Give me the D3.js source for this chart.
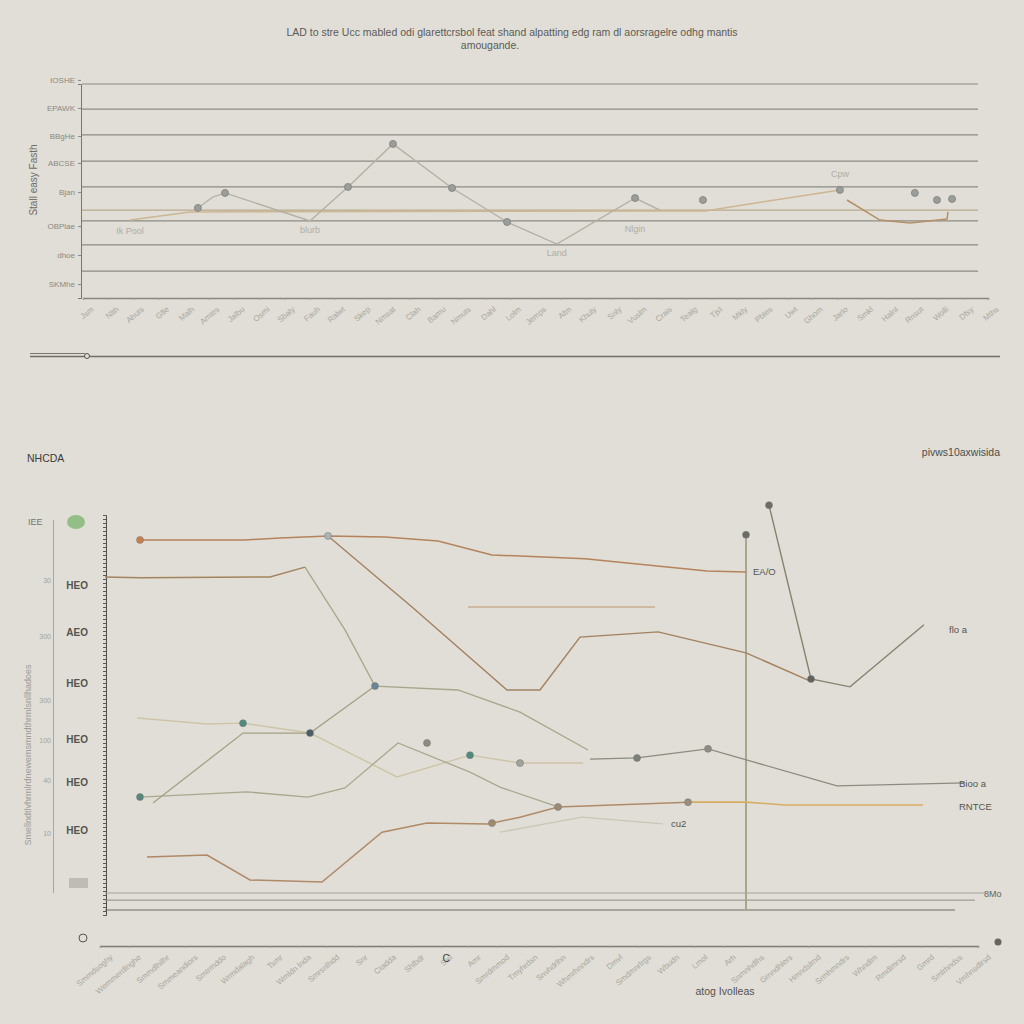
<!DOCTYPE html>
<html>
<head>
<meta charset="utf-8">
<script src="https://cdn.jsdelivr.net/npm/d3@7"></script>
<style>
  body { margin: 0; background: #e0ded6; }
  svg { display: block; font-family: "Liberation Sans", "DejaVu Sans", sans-serif; }
</style>
</head>
<body>
<script>
// ---- top chart data ----
var topTitle1 = "LAD to  stre Ucc  mabled odi glarettcrsbol  feat shand  alpatting  edg ram dl  aorsragelre odhg  mantis";
var topTitle2 = "amougande.";
var topYLabel = "Stall easy Fasth";
var topGrid = [100, 88.3, 76.2, 64.0, 51.9, 41.1, 36.0, 24.8, 12.6];
var topTickVals = [101.9, 88.8, 75.7, 63.1, 49.5, 33.6, 20.1, 6.5];
var topTickText = ["IOSHE", "EPAWK", "BBgHe", "ABCSE", "Bjan", "OBPlae", "dhoe", "SKMhe"];
var topCats = ["Jsm", "Nlth", "Ahuts", "Gfle", "Malh", "Amtes", "Jalbu", "Osmi", "Sbaly", "Fauh", "Ralwt", "Skep",
  "Nmsat", "Clah", "Bamu", "Nmuts", "Dahl", "Lolm", "Jemps", "Afm", "Khuly", "Snly", "Vuslm", "Crais",
  "Tealg", "Tjst", "Mkly", "Pbles", "Uwt", "Ghom", "Jarlo", "Smkl", "Halnt", "Rnsut", "Wolli", "Dfsy", "Mths"];
var topGray = [[4.57, 42.1], [5.17, 47.2], [5.65, 49.1], [9.03, 36.0], [10.54, 51.9], [12.33, 72.0],
  [14.68, 51.4], [16.87, 35.5], [18.85, 25.2], [21.96, 46.7], [22.95, 41.1]];
var topTan = [[1.87, 36.4], [4.26, 40.2], [22.95, 40.7], [24.74, 40.7], [30.11, 50.5]];
var topOrange = [[30.39, 45.8], [31.70, 36.4], [32.9, 35.0], [34.37, 36.9], [34.41, 40.2]];
var topDots = [[4.57, 42.1], [5.65, 49.1], [10.54, 51.9], [12.33, 72.0], [14.68, 51.4], [16.87, 35.5],
  [21.96, 46.7], [24.66, 45.8], [30.11, 50.5], [33.09, 49.1], [33.97, 45.8], [34.57, 46.3]];
var topNotes = [[1.87, 30.0, "Ik Pool"], [9.03, 30.5, "blurb"], [18.85, 19.5, "Land"], [21.96, 31.0, "Nlgin"], [30.11, 56.5, "Cpw"]];

// ---- bottom chart data ----
var botTitle = "NHCDA";
var botCorner = "pivws10axwisida";
var botAxisTitle = "atog Ivolleas";
var botTickVals = [82.3, 70.4, 57.5, 43.3, 32.4, 20.3];
var botTickText = ["HEO", "AEO", "HEO", "HEO", "HEO", "HEO"];
var botSmallVals = [83.5, 69.4, 53.2, 43.0, 33.0, 19.5];
var botSmallText = ["30", "300", "300", "100", "40", "10"];
var botCats = ["Smmdsoghy", "Wemmerdlnghe", "Smmdlhilhr", "Smmeandiors", "Smtrmddo", "Wrmdalagh", "Tsmr",
  "Wmldn lnda", "Smrsnlhdd", "Snr", "Ctadda", "Shlbdr", "Sisl", "Amr", "Smrdmmod", "Tmyhrdsn",
  "Snvhdrlhn", "Whmrhnndrs", "Dmvl", "Smdmnrlrgs", "Wbudn", "Lmol", "Arh", "Snmnhdlhs", "Grnndhlers",
  "Hmndslrnd", "Srmhmndrs", "Whndlm", "Rmdlmrsd", "Gmrd", "Smlrhndss", "Vmhnsdlrsd"];
var s1 = [[1.75, 93.7], [7.0, 93.7], [8.75, 94.2], [11.15, 94.7], [14.0, 94.4], [16.65, 93.4], [19.35, 89.9], [24.0, 88.9], [30.1, 85.8], [32.05, 85.6]];
var s2a = [[0, 84.3], [1.75, 84.1], [8.25, 84.3], [10.0, 86.8]];
var s2 = [[10.0, 86.8], [12.0, 70.9], [13.5, 56.7], [17.65, 55.7], [20.75, 50.1], [24.15, 40.5]];
var s2b = [[24.25, 38.2], [26.6, 38.5], [30.15, 40.8], [36.6, 31.4], [43.0, 32.2]];
var s3 = [[11.15, 94.7], [15.35, 76.7], [20.1, 55.7], [21.75, 55.7], [23.75, 69.1], [27.65, 70.4], [32.05, 65.1], [35.15, 58.2]];
var s4 = [[33.2, 102.5], [35.3, 58.5], [37.25, 56.5], [40.95, 72.2]];
var s5 = [[1.6, 48.6], [5.1, 47.1], [6.9, 47.3], [10.25, 44.8], [14.6, 33.7], [18.25, 39.2], [20.75, 37.2], [23.9, 37.2]];
var s6 = [[2.4, 27.1], [6.9, 44.8], [10.25, 44.8], [13.5, 56.7]];
var s7 = [[1.75, 28.6], [7.1, 29.9], [10.15, 28.6], [12.0, 30.9], [14.65, 42.3], [18.25, 34.9], [19.75, 31.1], [22.65, 26.1]];
var s8 = [[2.1, 13.4], [5.1, 13.9], [7.25, 7.6], [10.85, 7.1], [13.85, 19.7], [16.1, 22.0], [19.15, 21.8], [20.75, 23.5], [22.65, 26.1], [29.15, 27.3]];
var s8gold = [[29.15, 27.3], [32.05, 27.3], [34.0, 26.6], [40.9, 26.6]];
var s9 = [[19.75, 19.7], [23.85, 23.5], [27.9, 21.8]];
var s10 = [[18.15, 76.7], [27.5, 76.7]];
var botDots = [
  {p: [1.75, 93.7], c: "#c8804f"}, {p: [11.15, 94.7], c: "#a9b4b8"}, {p: [13.5, 56.7], c: "#6b8596"},
  {p: [6.9, 47.3], c: "#4f8a7e"}, {p: [10.25, 44.8], c: "#4b5e66"}, {p: [1.75, 28.6], c: "#56867c"},
  {p: [18.25, 39.2], c: "#4f8a7e"}, {p: [16.1, 42.3], c: "#8e8c80"}, {p: [33.2, 102.5], c: "#6c6c66"},
  {p: [35.3, 58.5], c: "#5f6263"}, {p: [32.05, 95.0], c: "#6c6c66"}, {p: [30.15, 40.8], c: "#8d8c80"},
  {p: [19.35, 22.0], c: "#a28a6c"}, {p: [22.65, 26.1], c: "#9c8a78"}, {p: [29.15, 27.3], c: "#9a8f7a"},
  {p: [20.75, 37.2], c: "#a3a39a"}, {p: [26.6, 38.5], c: "#7d7f79"}
];
var botNotes = [[32.4, 85.6, "EA/O"], [42.2, 70.9, "flo a"], [42.7, 32.0, "Bioo  a"], [42.7, 26.0, "RNTCE"], [28.3, 21.7, "cu2"]];

var svg = d3.select("body").append("svg").attr("width", 1024).attr("height", 1024);

// ================= top chart =================
var xT = d3.scaleLinear().domain([0, 36]).range([83, 988]);
var yT = d3.scaleLinear().domain([0, 100]).range([298, 84]);

svg.append("text").attr("x", 512).attr("y", 36).attr("text-anchor", "middle")
  .attr("font-size", 10.5).attr("fill", "#5c5b56").text(topTitle1);
svg.append("text").attr("x", 490).attr("y", 49).attr("text-anchor", "middle")
  .attr("font-size", 10.5).attr("fill", "#5c5b56").text(topTitle2);

svg.selectAll(".tgrid").data(topGrid).enter().append("line")
  .attr("x1", 82).attr("x2", 978)
  .attr("y1", function(d){ return yT(d); }).attr("y2", function(d){ return yT(d); })
  .attr("stroke", function(d, i){ return i === 5 ? "#b9a98e" : "#8c8c84"; })
  .attr("stroke-width", 1.2);

var topYAxis = svg.append("g").attr("transform", "translate(81,0)")
  .call(d3.axisLeft(yT).tickValues(topTickVals).tickSize(3).tickFormat(function(d, i){ return topTickText[i]; }));
topYAxis.select(".domain").attr("stroke", "#77776f");
topYAxis.selectAll("text").attr("font-size", 8).attr("fill", "#8a8982");
topYAxis.selectAll(".tick line").attr("stroke", "#8a8982");

svg.append("text").attr("transform", "translate(37,180) rotate(-90)").attr("text-anchor", "middle")
  .attr("font-size", 10).attr("fill", "#6e6d66").text(topYLabel);

var xTp = d3.scalePoint().domain(topCats).range([83, 988]);
var topXAxis = svg.append("g").attr("transform", "translate(0,298)")
  .call(d3.axisBottom(xTp).tickSize(2));
topXAxis.select(".domain").attr("stroke", "#88887f").attr("stroke-width", 1.5);
topXAxis.selectAll(".tick line").attr("stroke", "#a3a29a");
topXAxis.selectAll("text").attr("font-size", 8).attr("fill", "#a8a79f")
  .attr("text-anchor", "end").attr("transform", "translate(4,4) rotate(-40)");

var line = d3.line().x(function(d){ return xT(d[0]); }).y(function(d){ return yT(d[1]); });
svg.append("path").datum(topTan).attr("d", line).attr("fill", "none").attr("stroke", "#cdb692").attr("stroke-width", 1.5);
svg.append("path").datum(topGray).attr("d", line).attr("fill", "none").attr("stroke", "#b1b0a3").attr("stroke-width", 1.3);
svg.append("path").datum(topOrange).attr("d", line).attr("fill", "none").attr("stroke", "#b48f67").attr("stroke-width", 1.5);

svg.selectAll(".tdot").data(topDots).enter().append("circle")
  .attr("cx", function(d){ return xT(d[0]); }).attr("cy", function(d){ return yT(d[1]); })
  .attr("r", 3.5).attr("fill", "#9b9d9a").attr("stroke", "#7d807e").attr("stroke-width", 0.8);

svg.selectAll(".tnote").data(topNotes).enter().append("text")
  .attr("x", function(d){ return xT(d[0]); }).attr("y", function(d){ return yT(d[1]); })
  .attr("text-anchor", "middle").attr("font-size", 9).attr("fill", "#aeada6")
  .text(function(d){ return d[2]; });

// separator
svg.append("line").attr("x1", 30).attr("x2", 85).attr("y1", 353.5).attr("y2", 353.5).attr("stroke", "#77766f");
svg.append("line").attr("x1", 30).attr("x2", 1000).attr("y1", 356.5).attr("y2", 356.5).attr("stroke", "#6f6e68").attr("stroke-width", 1.3);
svg.append("circle").attr("cx", 87).attr("cy", 356).attr("r", 2.5).attr("fill", "#e0ded6").attr("stroke", "#55554f");

// ================= bottom chart =================
var xB = d3.scaleLinear().domain([0, 44]).range([105, 985]);
var yB = d3.scaleLinear().domain([0, 100]).range([910, 515]);

svg.append("text").attr("x", 27).attr("y", 462).attr("font-size", 10.5).attr("fill", "#3b3b38").text(botTitle);
svg.append("text").attr("x", 1000).attr("y", 456).attr("text-anchor", "end").attr("font-size", 10.5).attr("fill", "#4e4d49").text(botCorner);

// left decorations
svg.append("text").attr("x", 28).attr("y", 525).attr("font-size", 9).attr("fill", "#77766f").text("IEE");
svg.append("ellipse").attr("cx", 76).attr("cy", 522).attr("rx", 9).attr("ry", 7).attr("fill", "#93bf86");
svg.append("line").attr("x1", 53.5).attr("x2", 53.5).attr("y1", 520).attr("y2", 893).attr("stroke", "#a9a8a0");
svg.append("text").attr("transform", "translate(31,755) rotate(-90)").attr("text-anchor", "middle")
  .attr("font-size", 9).attr("fill", "#9e9d96").text("Smellndtlvhrmlrdnewemsmndthrmlsnllhadoes");
svg.append("rect").attr("x", 69).attr("y", 878).attr("width", 19).attr("height", 10).attr("fill", "#bdbcb5");

svg.selectAll(".bsmall").data(botSmallVals).enter().append("text")
  .attr("x", 51).attr("y", function(d){ return yB(d) + 3; }).attr("text-anchor", "end")
  .attr("font-size", 7).attr("fill", "#a3a29b").text(function(d, i){ return botSmallText[i]; });

var botYAxis = svg.append("g").attr("transform", "translate(91,0)")
  .call(d3.axisLeft(yB).tickValues(botTickVals).tickSize(0).tickFormat(function(d, i){ return botTickText[i]; }));
botYAxis.select(".domain").remove();
botYAxis.selectAll("text").attr("font-size", 10).attr("font-weight", "bold").attr("fill", "#55544f");

// wavy-looking main axis
var yWave = d3.scaleLinear().domain([0, 100]).range([915, 515]);
var waveAxis = svg.append("g").attr("transform", "translate(106,0)")
  .call(d3.axisLeft(yWave).ticks(90).tickSize(3).tickFormat(""));
waveAxis.select(".domain").attr("stroke", "#4d4d49");
waveAxis.selectAll(".tick line").attr("stroke", "#5a5a55");

// base lines
svg.append("line").attr("x1", xB(0)).attr("x2", xB(44)).attr("y1", yB(4.3)).attr("y2", yB(4.3)).attr("stroke", "#a5a49c");
svg.append("line").attr("x1", xB(0)).attr("x2", xB(43.5)).attr("y1", yB(2.5)).attr("y2", yB(2.5)).attr("stroke", "#8f8e87");
svg.append("line").attr("x1", xB(0)).attr("x2", xB(42.5)).attr("y1", yB(0)).attr("y2", yB(0)).attr("stroke", "#6c6c66").attr("stroke-width", 1.2);
svg.append("text").attr("x", 984).attr("y", 897).attr("font-size", 9).attr("fill", "#66655f").text("8Mo");

// vertical marker line
svg.append("line").attr("x1", xB(32.05)).attr("x2", xB(32.05)).attr("y1", yB(95)).attr("y2", yB(0))
  .attr("stroke", "#a7a78e").attr("stroke-width", 2);

var lineB = d3.line().x(function(d){ return xB(d[0]); }).y(function(d){ return yB(d[1]); });
var seriesB = [
  {d: s10, c: "#cfb9a0", w: 2},
  {d: s9, c: "#c9c7b5", w: 1.3},
  {d: s5, c: "#cfc4a8", w: 1.4},
  {d: s7, c: "#a9a88e", w: 1.3},
  {d: s6, c: "#a3a184", w: 1.3},
  {d: s8, c: "#b08a68", w: 1.5},
  {d: s8gold, c: "#d6ad62", w: 1.6},
  {d: s2, c: "#a8a68a", w: 1.3},
  {d: s2a, c: "#a4845f", w: 1.5},
  {d: s3, c: "#a3815f", w: 1.4},
  {d: s2b, c: "#8c8c80", w: 1.3},
  {d: s1, c: "#b5835c", w: 1.5},
  {d: s4, c: "#85846e", w: 1.4}
];
svg.selectAll(".bline").data(seriesB).enter().append("path")
  .attr("d", function(s){ return lineB(s.d); })
  .attr("fill", "none").attr("stroke", function(s){ return s.c; }).attr("stroke-width", function(s){ return s.w; });

svg.selectAll(".bdot").data(botDots).enter().append("circle")
  .attr("cx", function(d){ return xB(d.p[0]); }).attr("cy", function(d){ return yB(d.p[1]); })
  .attr("r", 3.5).attr("fill", function(d){ return d.c; }).attr("stroke", "#777").attr("stroke-width", 0.5);

svg.selectAll(".bnote").data(botNotes).enter().append("text")
  .attr("x", function(d){ return xB(d[0]); }).attr("y", function(d){ return yB(d[1]) + 3; })
  .attr("font-size", 9.5).attr("fill", "#55544f").text(function(d){ return d[2]; });

// bottom x axis
var xBp = d3.scalePoint().domain(botCats).range([100, 978]);
var botXAxis = svg.append("g").attr("transform", "translate(0,946)")
  .call(d3.axisBottom(xBp).tickSize(2));
botXAxis.select(".domain").attr("stroke", "#7b7a74").attr("stroke-width", 1.4);
botXAxis.selectAll(".tick line").attr("stroke", "#a3a29a");
botXAxis.selectAll("text").attr("font-size", 8).attr("fill", "#a8a79f")
  .attr("text-anchor", "end").attr("transform", "translate(6,4) rotate(-40)");
svg.append("circle").attr("cx", 83).attr("cy", 938).attr("r", 4).attr("fill", "#e0ded6").attr("stroke", "#55554f");
svg.append("circle").attr("cx", 998).attr("cy", 942).attr("r", 3.5).attr("fill", "#66665f");
svg.append("text").attr("x", 446).attr("y", 962).attr("text-anchor", "middle").attr("font-size", 10).attr("fill", "#3d3d3a").text("C");
svg.append("text").attr("x", 725).attr("y", 995).attr("text-anchor", "middle").attr("font-size", 10.5).attr("fill", "#55544f").text(botAxisTitle);
</script>
</body>
</html>
